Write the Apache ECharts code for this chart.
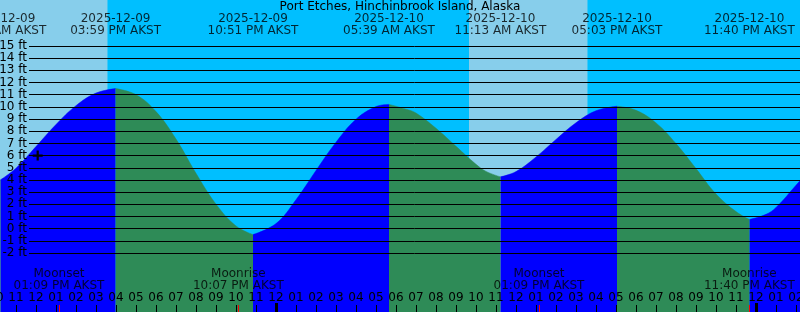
<!DOCTYPE html>
<html><head><meta charset="utf-8">
<script src="https://cdn.jsdelivr.net/npm/echarts@6/dist/echarts.min.js"></script>
<style>html,body{margin:0;padding:0;background:#fff;overflow:hidden}#c{width:800px;height:312px}</style>
</head><body><div id="c"></div>
<script>
// ---- data (hours since 2025-12-09 00:00 AKST) ----
const chartTitle = 'Port Etches, Hinchinbrook Island, Alaska';
const curveTimes   = [10.0, 11, 12, 13, 14, 15, 17, 18, 19, 20, 21, 22, 24, 25, 26, 27, 28, 29, 30.5, 31, 32, 33, 34, 34.5, 36, 37, 38, 39, 40, 42, 43, 44, 45, 46, 47, 48.5, 49, 50, 50.4];
const curveHeights = [4.04, 4.96, 6.74, 8.55, 10.1, 11.13, 11.0, 9.61, 7.35, 4.54, 2.01, 0.22, 0.41, 2.37, 4.77, 7.09, 8.98, 10.02, 9.81, 9.49, 8.24, 6.76, 5.28, 4.7, 4.68, 5.88, 7.32, 8.69, 9.68, 9.72, 8.68, 6.98, 4.93, 2.84, 1.4, 1.17, 1.73, 3.56, 4.3];
const extremeTimes   = [10.22, 15.98, 22.85, 29.65, 35.22, 41.05, 47.67];
const extremeHeights = [4.0, 11.5, -0.49, 10.2, 4.25, 10.05, 0.74];
const extremeDates   = ['2025-12-09', '2025-12-09', '2025-12-09', '2025-12-10', '2025-12-10', '2025-12-10', '2025-12-10'];
const extremeClock   = ['10:13 AM AKST', '03:59 PM AKST', '10:51 PM AKST', '05:39 AM AKST', '11:13 AM AKST', '05:03 PM AKST', '11:40 PM AKST'];
const moonTimes  = [13.15, 22.117, 37.15, 47.667];
const moonEvents = ['Moonset', 'Moonrise', 'Moonset', 'Moonrise'];
const moonClock  = ['01:09 PM AKST', '10:07 PM AKST', '01:09 PM AKST', '11:40 PM AKST'];
const midnightTimes = [24, 48];
const sunlitPeriods = [[10, 15.585], [33.65, 39.585]];
const darkPeriods   = [[15.585, 33.65], [39.585, 50.4]];
const nowMarker = [12.085, 6];
const levelMin = -2, levelMax = 15;
const timeMin = 10, timeMax = 50.4;

// ---- build ----
const FONT = 'DejaVu Sans';
const yMax = 18.775, yMin = -6.849;
const pts = curveTimes.map((t, i) => ({ t, h: curveHeights[i], ext: false }))
  .concat(extremeTimes.map((t, i) => ({ t, h: extremeHeights[i], ext: true })))
  .sort((a, b) => a.t - b.t);
function segmentOf(t) {
  for (let i = 0; i < extremeTimes.length; i++) if (t <= extremeTimes[i]) return i;
  return extremeTimes.length;
}
const risingData = [], fallingData = [];
pts.forEach(p => {
  let inRise = false, inFall = false;
  if (p.ext) {
    inRise = inFall = true;
  } else {
    const k = segmentOf(p.t);
    let rising;
    if (k === 0) rising = extremeHeights[0] > extremeHeights[1];
    else if (k === extremeTimes.length) rising = extremeHeights[k - 1] < extremeHeights[k - 2];
    else rising = extremeHeights[k] > extremeHeights[k - 1];
    inRise = rising; inFall = !rising;
  }
  risingData.push([p.t, inRise ? p.h : null]);
  fallingData.push([p.t, inFall ? p.h : null]);
});

const chart = echarts.init(document.getElementById('c'), null, { renderer: 'canvas' });
const areaSeries = (name, data, color) => ({
  name, type: 'line', xAxisIndex: 0, yAxisIndex: 0, data, smooth: 0.4,
  showSymbol: false, symbol: 'none', connectNulls: false, z: 2,
  lineStyle: { width: 0.5, color }, itemStyle: { color },
  areaStyle: { color, opacity: 1, origin: 'start' }, silent: true, animation: false
});
const bandData = sunlitPeriods.map(p => [{ xAxis: p[0], itemStyle: { color: '#87CEEB' } }, { xAxis: p[1] }])
  .concat(darkPeriods.map(p => [{ xAxis: p[0], itemStyle: { color: '#00BFFF' } }, { xAxis: p[1] }]));
const hiddenX = { axisLine: { show: false, onZero: false }, splitLine: { show: false }, axisLabel: { show: false } };

chart.setOption({
  animation: false,
  backgroundColor: '#00BFFF',
  textStyle: { fontFamily: FONT },
  title: { text: chartTitle, left: 'center', top: 1, padding: 0,
    textStyle: { fontSize: 12, fontWeight: 'normal', color: '#000', fontFamily: FONT } },
  grid: [
    { left: -4, right: -4, top: 0, bottom: 0, containLabel: false, outerBoundsMode: 'none' },
    { left: 29, right: 0, top: 46, bottom: 59, containLabel: false, outerBoundsMode: 'none' }
  ],
  xAxis: [
    { gridIndex: 0, type: 'value', position: 'bottom', min: timeMin, max: timeMax, interval: 1, z: 10,
      axisLine: { show: false, onZero: false }, splitLine: { show: false },
      axisTick: { show: true, inside: true, length: 7, lineStyle: { color: '#000', width: 1 } },
      axisLabel: { show: true, inside: true, margin: 8.5, color: '#000', fontSize: 12, fontFamily: FONT,
        showMinLabel: true, showMaxLabel: false, hideOverlap: false,
        formatter: v => { const h = Math.round(v) % 12; return String(h === 0 ? 12 : h).padStart(2, '0'); } } },
    { gridIndex: 1, type: 'value', min: 0, max: 1, show: false, axisLine: { onZero: false } },
    Object.assign({ gridIndex: 0, type: 'value', position: 'bottom', min: timeMin, max: timeMax, z: 11,
      axisTick: { show: true, inside: true, length: 9, customValues: midnightTimes, lineStyle: { color: '#000', width: 3 } } }, hiddenX),
    Object.assign({ gridIndex: 0, type: 'value', position: 'bottom', min: timeMin, max: timeMax, z: 11,
      axisTick: { show: true, inside: true, length: 7, customValues: moonTimes, lineStyle: { color: '#FF0000', width: 1 } } }, hiddenX)
  ],
  yAxis: [
    { gridIndex: 0, type: 'value', min: yMin, max: yMax, show: false },
    { gridIndex: 1, type: 'value', min: levelMin, max: levelMax, interval: 1, z: 10,
      axisLine: { show: false }, axisTick: { show: false },
      splitLine: { show: true, lineStyle: { color: '#000', width: 1 } },
      axisLabel: { show: true, margin: 2, color: '#000', fontSize: 12, fontFamily: FONT, formatter: '{value} ft', hideOverlap: false } }
  ],
  series: [
    { name: 'daylight', type: 'line', xAxisIndex: 0, yAxisIndex: 0, data: [], z: 0, silent: true,
      markArea: { silent: true, z: 0, data: bandData, label: { show: false } } },
    areaSeries('rising', risingData, '#0000FF'),
    areaSeries('falling', fallingData, '#2E8B57'),
    { name: 'extremes', type: 'scatter', xAxisIndex: 0, yAxisIndex: 0, z: 20, clip: false, silent: true,
      symbolSize: 0, data: extremeTimes.map(t => [t, yMax]),
      label: { show: true, position: 'bottom', distance: 12.5, align: 'center', lineHeight: 12.5,
        color: '#000', fontSize: 12, fontFamily: FONT,
        formatter: p => extremeDates[p.dataIndex] + '\n' + extremeClock[p.dataIndex] } },
    { name: 'moon', type: 'scatter', xAxisIndex: 0, yAxisIndex: 0, z: 20, clip: false, silent: true,
      symbolSize: 0, data: moonTimes.map(t => [t, yMin]),
      label: { show: true, position: 'top', distance: 20.3, align: 'center', lineHeight: 12,
        color: '#000', fontSize: 12, fontFamily: FONT,
        formatter: p => moonEvents[p.dataIndex] + '\n' + moonClock[p.dataIndex] } },
    { name: 'now', type: 'scatter', xAxisIndex: 0, yAxisIndex: 0, z: 30, zlevel: 0, silent: true, clip: false,
      symbol: 'path://M3.5,0h2v3.5h3.5v2h-3.5v3.5h-2v-3.5h-3.5v-2h3.5z', symbolSize: 10,
      itemStyle: { color: '#000', opacity: 1 }, data: [nowMarker] }
  ]
});
</script>
</body></html>
